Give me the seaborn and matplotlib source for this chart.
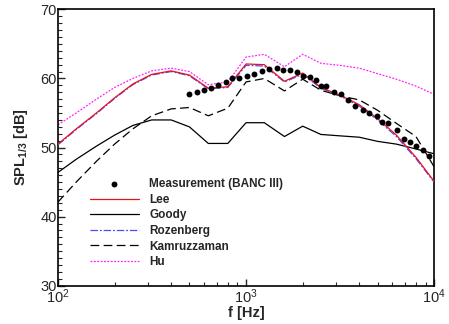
import numpy as np
import pandas as pd
import matplotlib
matplotlib.use("Agg")
import matplotlib.pyplot as plt
import seaborn as sns
from matplotlib.ticker import MultipleLocator, LogLocator, NullFormatter

# 1/3 octave band centre frequencies
freq = [100, 125, 160, 200, 250, 315, 400, 500, 630, 800, 1000, 1250, 1600,
        2000, 2500, 3150, 4000, 5000, 6300, 8000, 10000]

lee = [50.5, 52.7, 55.0, 57.2, 59.2, 60.6, 61.1, 60.5, 58.6, 58.8, 62.1, 62.0,
       59.6, 60.8, 58.7, 57.6, 56.2, 54.2, 51.8, 48.6, 45.1]
goody = [46.4, 48.3, 50.2, 51.8, 53.2, 54.0, 54.0, 53.0, 50.6, 50.6, 53.6, 53.6,
         51.6, 53.1, 51.9, 51.7, 51.5, 50.9, 50.5, 49.8, 49.1]
rozenberg = [50.4, 52.6, 54.9, 57.1, 59.1, 60.5, 61.0, 60.4, 58.5, 58.7, 61.9, 61.8,
             59.5, 60.6, 58.6, 57.5, 56.0, 54.0, 51.6, 48.4, 45.0]
kamruzzaman = [42.1, 45.0, 48.0, 50.5, 52.7, 54.6, 55.6, 55.8, 54.6, 55.7, 59.5, 60.0,
               58.2, 59.9, 58.3, 57.5, 56.9, 55.4, 53.5, 51.6, 47.2]
hu = [53.3, 55.0, 57.0, 58.7, 60.0, 61.1, 61.5, 61.0, 59.1, 59.5, 63.1, 63.5,
      61.7, 63.5, 62.2, 61.9, 61.5, 60.7, 59.9, 58.9, 57.7]

# measurement (BANC III)
meas_f = [499, 551, 598, 651, 712, 780, 846, 921, 1009, 1103, 1212, 1330, 1457,
          1579, 1714, 1861, 1998, 2190, 2357, 2497, 2665, 2938, 3189, 3501, 3800,
          4176, 4528, 4958, 5271, 5714, 6332, 6950, 7454, 8023, 8773, 9441]
meas_spl = [57.7, 58.1, 58.3, 58.6, 59.0, 59.5, 60.0, 60.1, 60.3, 60.7, 61.1, 61.4,
            61.5, 61.2, 61.2, 61.0, 60.4, 60.2, 59.8, 58.9, 58.9, 58.1, 57.7, 56.9,
            56.0, 55.5, 55.0, 54.5, 53.7, 53.6, 52.5, 51.3, 50.8, 50.2, 49.6, 48.8]

sns.set_style("white")
plt.rcParams["font.family"] = ["Liberation Sans", "DejaVu Sans"]

fig = plt.figure(figsize=(4.49, 3.24), dpi=100)
ax = fig.add_axes([0.129, 0.118, 0.838, 0.853])

sns.scatterplot(x=meas_f, y=meas_spl, ax=ax, color="black", s=18, linewidth=0,
                label="Measurement (BANC III)", zorder=5)
lw = 0.9
sns.lineplot(x=freq, y=lee, ax=ax, color="#e8141c", lw=lw, label="Lee", zorder=4)
sns.lineplot(x=freq, y=goody, ax=ax, color="black", lw=lw, label="Goody")
sns.lineplot(x=freq, y=rozenberg, ax=ax, color="#4a4aff", lw=lw, label="Rozenberg", zorder=3)
sns.lineplot(x=freq, y=kamruzzaman, ax=ax, color="black", lw=lw, label="Kamruzzaman")
sns.lineplot(x=freq, y=hu, ax=ax, color="#ff22ff", lw=lw, label="Hu")
ax.lines[2].set_dashes([6, 1.5, 1.5, 1.5])
ax.lines[3].set_dashes([7, 3.5])
ax.lines[4].set_dashes([1.5, 1.2])

ax.set_xscale("log")
ax.set_xlim(100, 10000)
ax.set_ylim(30, 70)
ax.yaxis.set_major_locator(MultipleLocator(10))
ax.yaxis.set_minor_locator(MultipleLocator(1))
ax.xaxis.set_major_locator(LogLocator(base=10))
ax.xaxis.set_minor_locator(LogLocator(base=10, subs=np.arange(2, 10)))
ax.xaxis.set_minor_formatter(NullFormatter())

ax.tick_params(which="both", direction="in", top=False, right=False,
               bottom=True, left=True, labelsize=10.5, pad=1)
ax.tick_params(which="major", length=5, width=1)
ax.tick_params(which="minor", length=3, width=0.8)

for sp in ax.spines.values():
    sp.set_linewidth(1.2)
    sp.set_color("black")

ax.set_xlabel("f [Hz]", fontsize=10.5, fontweight="bold", labelpad=0)
ax.set_ylabel("SPL$_{\\mathregular{1/3}}$ [dB]", fontsize=10.5, fontweight="bold", labelpad=7)

leg = ax.legend(loc="upper left", bbox_to_anchor=(0.07, 0.41), frameon=False,
                prop={"weight": "bold", "size": 8.5}, handlelength=4.1,
                handletextpad=0.9, labelspacing=0.3, borderpad=0, markerscale=1.0)

fig.savefig("out.png", dpi=100)
